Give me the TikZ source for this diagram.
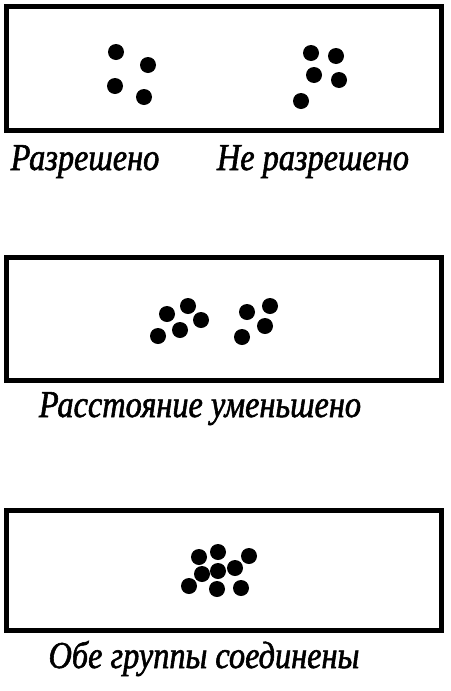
\documentclass[tikz,border=0pt]{standalone}
\usepackage{fontspec}
\newfontfamily\capfont[FakeStretch=0.85, FakeBold=1.5]{Liberation Serif}
\usetikzlibrary{positioning}

\tikzset{
  frame/.style={draw, line width=5pt},
  dot/.style={circle, fill=black, inner sep=0pt, minimum size=16pt},
  caption/.style={anchor=base, inner sep=0pt, font=\capfont\itshape\fontsize{38}{40}\selectfont}
}

\begin{document}
\begin{tikzpicture}[x=1pt, y=-1pt]
    \useasboundingbox (0,0) rectangle (450,691);
    % frames
    \draw[frame] (6.5,6.5) rectangle (441,130);
    \draw[frame] (6.5,257) rectangle (441,380);
    \draw[frame] (6.5,510) rectangle (441,630);
    % first frame: resolved and not resolved
    \foreach \x/\y [count=\i] in {116/52, 148/65, 115/86, 144/97}
        \node[dot] (ra\i) at (\x,\y) {};
    \foreach \x/\y [count=\i] in {311/53, 336/56, 314/75, 339/80, 301/101}
        \node[dot] (rb\i) at (\x,\y) {};
    % second frame: distance reduced
    \foreach \x/\y [count=\i] in {167/314, 188/306, 201/320, 180/330, 158/336}
        \node[dot] (da\i) at (\x,\y) {};
    \foreach \x/\y [count=\i] in {247/312, 270/306, 265/326, 242/337}
        \node[dot] (db\i) at (\x,\y) {};
    % third frame: both groups merged
    \foreach \x/\y [count=\i] in {199/557, 218/552, 249/556, 202/574, 218/571, 235/568, 189/586, 217/589, 241/588}
        \node[dot] (m\i) at (\x,\y) {};
    % captions
    \node[caption] (res) at (85,170) {Разрешено};
    \node[caption] (nres) at (313,170) {Не разрешено};
    \node[caption] (dist) at (200,417) {Расстояние уменьшено};
    \node[caption] (both) at (204,668) {Обе группы соединены};
\end{tikzpicture}
\end{document}
